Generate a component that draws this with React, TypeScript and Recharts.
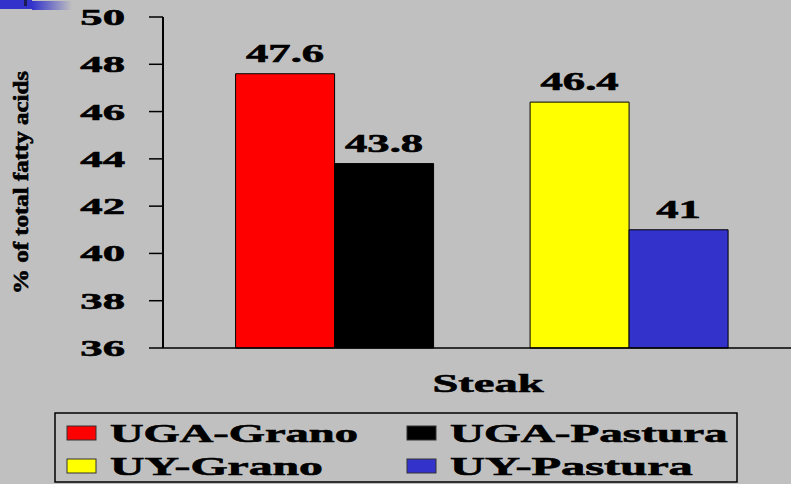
import { BarChart, Bar, XAxis, YAxis, Cell, LabelList, Label } from "recharts";

const categories = ["UGA", "UY"];
const granoValues = [47.6, 46.4];
const pasturaValues = [43.8, 41];
const granoColors = ["#FF0000", "#FFFF00"];
const pasturaColors = ["#000000", "#3333CC"];
const yTicks = [36, 38, 40, 42, 44, 46, 48, 50];
const legendNames = ["UGA-Grano", "UGA-Pastura", "UY-Grano", "UY-Pastura"];
const legendColors = ["#FF0000", "#000000", "#FFFF00", "#3333CC"];

const data = categories.map((cat, i) => ({
  cat,
  grano: granoValues[i],
  pastura: pasturaValues[i],
}));

const FONT = "Liberation Serif";
const BG = "#C0C0C0";
// the slide was stretched sideways, so every glyph is wider than normal
const STRETCH = 1.86;

// rough Times Bold advance widths (em) for measuring stretched strings
const charWidth = (c: string) => {
  if (/[0-9]/.test(c)) return 0.5;
  if (c === ".") return 0.25;
  if (c === " ") return 0.25;
  if (c === "-") return 0.333;
  if ("UAGY".includes(c)) return 0.75;
  if (c === "P") return 0.611;
  if ("rst".includes(c)) return 0.39;
  return 0.5;
};
const measure = (s: string, size: number) =>
  s.split("").reduce((sum, c) => sum + charWidth(c), 0) * size * STRETCH;

// slight stroke to get the heavy look of the original slide text
const textStyle = { fontFamily: FONT, fontWeight: 700, stroke: "#000", strokeWidth: 0.6 };

function YTick({ x, y, payload }: any) {
  const s = String(payload.value);
  return (
    <text
      x={x}
      y={y + 8}
      textAnchor="end"
      style={textStyle}
      fontSize={24}
      fill="#000"
      textLength={measure(s, 24)}
      lengthAdjust="spacingAndGlyphs"
    >
      {s}
    </text>
  );
}

function ValueLabel({ x, y, width, value }: any) {
  const s = String(value);
  return (
    <text
      x={x + width / 2}
      y={y - 12}
      textAnchor="middle"
      style={textStyle}
      fontSize={25}
      fill="#000"
      textLength={measure(s, 24)}
      lengthAdjust="spacingAndGlyphs"
    >
      {s}
    </text>
  );
}

function YTitle({ viewBox }: any) {
  const cx = viewBox.x + 28;
  const cy = viewBox.y + viewBox.height / 2;
  return (
    <text
      x={cx}
      y={cy}
      transform={`rotate(-90, ${cx}, ${cy})`}
      textAnchor="middle"
      style={textStyle}
      fontSize={20}
      fill="#000"
      textLength={223}
      lengthAdjust="spacingAndGlyphs"
    >
      % of total fatty acids
    </text>
  );
}

function XTitle({ viewBox }: any) {
  return (
    <text
      x={viewBox.x + viewBox.width / 2 + 11}
      y={viewBox.y + 44}
      textAnchor="middle"
      style={textStyle}
      fontSize={26}
      fill="#000"
      textLength={111}
      lengthAdjust="spacingAndGlyphs"
    >
      Steak
    </text>
  );
}

function LegendBox() {
  return (
    <svg
      width={684}
      height={71}
      style={{ position: "absolute", left: 54, top: 412 }}
    >
      <rect x={1} y={1} width={682} height={69} fill={BG} stroke="#000" strokeWidth={1.5} />
      {legendNames.map((name, i) => {
        const col = i % 2;
        const row = Math.floor(i / 2);
        const sx = col === 0 ? 13 : 353;
        const sy = row === 0 ? 14 : 47;
        return (
          <g key={name}>
            <rect x={sx} y={sy} width={29} height={14} fill={legendColors[i]} stroke="#333" strokeWidth={1} />
            <text
              x={sx + 43}
              y={sy + 16}
              style={textStyle}
              fontSize={25}
              fill="#000"
              textLength={measure(name, 25) + 5}
              lengthAdjust="spacingAndGlyphs"
            >
              {name}
            </text>
          </g>
        );
      })}
    </svg>
  );
}

export default function App() {
  return (
    <div
      style={{
        position: "absolute",
        left: 0,
        top: 0,
        width: 791,
        height: 484,
        background: BG,
        overflow: "hidden",
        fontFamily: FONT,
      }}
    >
      <div style={{ position: "absolute", left: 0, top: 0, width: 32, height: 9, background: "#3333CC" }} />
      <div
        style={{
          position: "absolute",
          left: 32,
          top: 1,
          width: 40,
          height: 9,
          background: "linear-gradient(to right, #3333CC, rgba(51,51,204,0))",
        }}
      />
      <div style={{ position: "absolute", left: 24, top: 0, width: 3, height: 6, background: "#1a1a55" }} />
      <BarChart
        width={791}
        height={484}
        data={data}
        margin={{ top: 17, right: 0, left: 0, bottom: 76 }}
        barGap={0}
        barCategoryGap="16.5%"
      >
        <XAxis
          dataKey="cat"
          tick={false}
          tickLine={false}
          height={60}
          padding={{ left: 24, right: 15 }}
          axisLine={{ stroke: "#000", strokeWidth: 1.5 }}
        >
          <Label content={<XTitle />} />
        </XAxis>
        <YAxis
          width={163}
          domain={[36, 50]}
          ticks={yTicks}
          interval={0}
          tickSize={14}
          tickMargin={24}
          tick={<YTick />}
          tickLine={{ stroke: "#000", strokeWidth: 1.5 }}
          axisLine={{ stroke: "#000", strokeWidth: 2 }}
        >
          <Label content={<YTitle />} />
        </YAxis>
        <Bar dataKey="grano" stroke="#000" strokeWidth={1} isAnimationActive={false}>
          {data.map((d, i) => (
            <Cell key={d.cat} fill={granoColors[i]} />
          ))}
          <LabelList dataKey="grano" content={<ValueLabel />} />
        </Bar>
        <Bar dataKey="pastura" stroke="#000" strokeWidth={1} isAnimationActive={false}>
          {data.map((d, i) => (
            <Cell key={d.cat} fill={pasturaColors[i]} />
          ))}
          <LabelList dataKey="pastura" content={<ValueLabel />} />
        </Bar>
      </BarChart>
      <LegendBox />
    </div>
  );
}
